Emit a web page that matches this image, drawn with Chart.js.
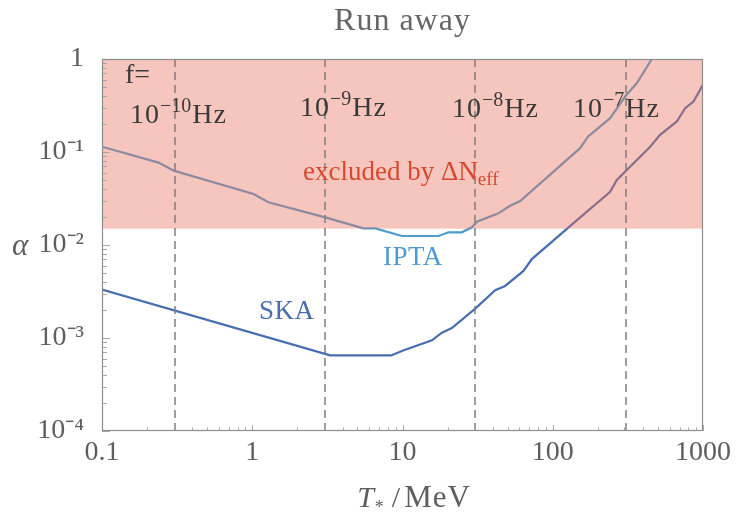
<!DOCTYPE html>
<html>
<head>
<meta charset="utf-8">
<title>Run away</title>
<script src="https://cdn.jsdelivr.net/npm/chart.js@4.4.1/dist/chart.umd.min.js"></script>
<style>
  html, body { margin: 0; padding: 0; background: #fff; }
</style>
</head>
<body>
<canvas id="runAway" width="738" height="515"></canvas>
<script>
// axis ticks
const xTicks = [0.1, 1, 10, 100, 1000];
const xTickText = ['0.1', '1', '10', '100', '1000'];
const yTicks = [1e-4, 1e-3, 1e-2, 1e-1, 1];
const yTickText = ['10⁻⁴', '10⁻³', '10⁻²', '10⁻¹', '1'];

// IPTA sensitivity curve (T* in MeV, alpha)
const iptaT = [0.1, 0.238, 0.30, 1.02, 1.28, 3.06, 5.5, 6.6, 9.9, 17.4, 20.2, 24.8, 29, 31.3,
  43.5, 52, 60.7, 152, 172, 241, 303, 363, 457];
const iptaAlpha = [0.114, 0.0769, 0.063, 0.0353, 0.0288, 0.0198, 0.0151, 0.0151, 0.0125, 0.0125,
  0.0137, 0.0137, 0.0155, 0.0178, 0.0219, 0.0264, 0.0297, 0.11, 0.147, 0.231, 0.395, 0.551, 1.0];

// SKA sensitivity curve
const skaT = [0.1, 3.3, 8.4, 10.2, 15.7, 18.3, 21.3, 30.5, 41.4, 48.2, 63.8, 72.6, 145, 241,
  267, 445, 518, 670, 761, 864, 1000];
const skaAlpha = [0.00332, 0.00065, 0.00065, 0.000737, 0.000944, 0.00114, 0.00128, 0.00207,
  0.00327, 0.00363, 0.00527, 0.00705, 0.0185, 0.0374, 0.05, 0.114, 0.153, 0.213, 0.296, 0.349, 0.53];

// Delta N_eff bound and peak frequency markers
const excludedAlpha = 0.015;
const freqT = [0.305, 3.05, 30.5, 305];
const freqExp = ['−10', '−9', '−8', '−7'];

const SERIF = "'Liberation Serif', 'Times New Roman', serif";
const fnt = (size, style) => `${style || 'normal'} ${size}px ${SERIF}`;

function partsWidth(ctx, parts) {
  let w = 0;
  for (const p of parts) {
    ctx.font = fnt(p.size, p.style);
    ctx.letterSpacing = (p.spacing || 0) + 'px';
    w += ctx.measureText(p.text).width + (p.gap || 0);
  }
  ctx.letterSpacing = '0px';
  return w;
}

function drawParts(ctx, x, y, parts) {
  ctx.textAlign = 'left';
  ctx.textBaseline = 'alphabetic';
  for (const p of parts) {
    ctx.font = fnt(p.size, p.style);
    ctx.letterSpacing = (p.spacing || 0) + 'px';
    ctx.fillStyle = p.color;
    ctx.fillText(p.text, x, y + (p.dy || 0));
    x += ctx.measureText(p.text).width + (p.gap || 0);
  }
  ctx.letterSpacing = '0px';
}

// 1..9 x 10^k between the decades
function logTicks(decades) {
  const ticks = [];
  for (let i = 0; i < decades.length - 1; i++) {
    for (let m = 1; m < 10; m++) ticks.push({ value: m * decades[i] });
  }
  ticks.push({ value: decades[decades.length - 1] });
  return ticks;
}

const decadeIndex = (list, v) =>
  list.findIndex(t => Math.abs(Math.log10(t) - Math.log10(v)) < 1e-6);

const decor = {
  id: 'decor',
  afterDatasetsDraw(chart) {
    const { ctx, chartArea: a, scales: { x, y } } = chart;
    ctx.save();

    // excluded region, drawn over the curves
    const yEx = y.getPixelForValue(excludedAlpha);
    ctx.fillStyle = 'rgba(232, 112, 93, 0.4)';
    ctx.fillRect(a.left, a.top, a.right - a.left, yEx - a.top);

    // frequency lines
    ctx.strokeStyle = '#7f7f7f';
    ctx.lineWidth = 1.5;
    ctx.setLineDash([8, 5]);
    freqT.forEach(t => {
      const px = Math.round(x.getPixelForValue(t));
      ctx.beginPath();
      ctx.moveTo(px, a.top);
      ctx.lineTo(px, a.bottom);
      ctx.stroke();
    });
    ctx.setLineDash([]);

    // inward tick marks
    ctx.strokeStyle = '#a8a8a8';
    ctx.lineWidth = 1;
    x.ticks.forEach(tk => {
      const px = Math.round(x.getPixelForValue(tk.value)) + 0.5;
      const len = decadeIndex(xTicks, tk.value) >= 0 ? 6 : 3.5;
      ctx.beginPath();
      ctx.moveTo(px, a.bottom);
      ctx.lineTo(px, a.bottom - len);
      ctx.stroke();
    });
    y.ticks.forEach(tk => {
      const py = Math.round(y.getPixelForValue(tk.value)) + 0.5;
      const len = decadeIndex(yTicks, tk.value) >= 0 ? 8 : 5;
      ctx.beginPath();
      ctx.moveTo(a.left, py);
      ctx.lineTo(a.left + len, py);
      ctx.stroke();
    });

    // frame
    ctx.strokeStyle = '#8e8e8e';
    ctx.lineWidth = 1.2;
    ctx.strokeRect(a.left + 0.5, a.top + 0.5, a.right - a.left - 1, a.bottom - a.top - 1);

    // annotations
    const dark = '#3a3a3a';
    drawParts(ctx, 125, 83, [{ text: 'f=', size: 28, color: dark }]);
    const freqPos = [[130, 123], [300, 116], [452, 117], [573, 117]];
    freqExp.forEach((e, i) => {
      drawParts(ctx, freqPos[i][0], freqPos[i][1], [
        { text: '10', size: 28, color: dark, spacing: 1 },
        { text: e, size: 20, dy: -11, color: dark, gap: 1 },
        { text: 'Hz', size: 28, color: dark, spacing: 1 }
      ]);
    });

    const red = '#d5492e';
    drawParts(ctx, 303, 180, [
      { text: 'excluded by ΔN', size: 27, color: red },
      { text: 'eff', size: 19, dy: 5, color: red }
    ]);
    drawParts(ctx, 383, 265, [{ text: 'IPTA', size: 27, color: '#4e9bcd', spacing: 0.5 }]);
    drawParts(ctx, 259, 319, [{ text: 'SKA', size: 27, color: '#476fb0', spacing: 0.5 }]);

    ctx.restore();
  },
  afterDraw(chart) {
    const { ctx, chartArea: a } = chart;
    ctx.save();
    const grey = '#5e5e5e';

    // title
    ctx.font = fnt(32);
    ctx.letterSpacing = '1px';
    ctx.fillStyle = '#666';
    ctx.textAlign = 'center';
    ctx.textBaseline = 'alphabetic';
    ctx.fillText('Run away', (a.left + a.right) / 2, 30);
    ctx.letterSpacing = '0px';

    // axis titles
    const xTitle = [
      { text: 'T', size: 30, style: 'italic', color: grey, gap: 1 },
      { text: '*', size: 18, dy: 6, color: grey, gap: 8 },
      { text: '/', size: 30, color: grey, gap: 4 },
      { text: 'MeV', size: 31, color: grey, spacing: 1 }
    ];
    drawParts(ctx, 414 - partsWidth(ctx, xTitle) / 2, 507, xTitle);
    drawParts(ctx, 12, 255, [{ text: 'α', size: 31, style: 'italic', color: grey }]);
    ctx.restore();
  }
};

const tickFont = { family: SERIF, size: 28, lineHeight: 1 };

new Chart('runAway', {
  type: 'line',
  data: {
    datasets: [
      {
        label: 'IPTA',
        data: iptaT.map((t, i) => ({ x: t, y: iptaAlpha[i] })),
        borderColor: '#4e9bcd',
        borderWidth: 2.2,
        pointRadius: 0,
        tension: 0
      },
      {
        label: 'SKA',
        data: skaT.map((t, i) => ({ x: t, y: skaAlpha[i] })),
        borderColor: '#476fb0',
        borderWidth: 2.2,
        pointRadius: 0,
        tension: 0
      }
    ]
  },
  options: {
    responsive: false,
    animation: false,
    devicePixelRatio: 1,
    layout: { padding: { top: 59, right: 35, left: 0, bottom: 0 } },
    plugins: {
      legend: { display: false },
      tooltip: { enabled: false },
      title: { display: false }
    },
    scales: {
      x: {
        type: 'logarithmic',
        min: 0.1,
        max: 1000,
        grid: { display: false },
        border: { display: false },
        afterBuildTicks: s => { s.ticks = logTicks(xTicks); },
        afterFit: s => { s.height = 84; },
        ticks: {
          autoSkip: false,
          maxRotation: 0,
          padding: 0,
          color: '#5e5e5e',
          font: tickFont,
          callback: v => {
            const i = decadeIndex(xTicks, v);
            return i >= 0 ? xTickText[i] : '';
          }
        }
      },
      y: {
        type: 'logarithmic',
        min: 1e-4,
        max: 1,
        grid: { display: false },
        border: { display: false },
        afterBuildTicks: s => { s.ticks = logTicks(yTicks); },
        afterFit: s => { s.width = 102; },
        ticks: {
          autoSkip: false,
          padding: 10,
          color: '#5e5e5e',
          font: tickFont,
          callback: v => {
            const i = decadeIndex(yTicks, v);
            return i >= 0 ? yTickText[i] : '';
          }
        }
      }
    }
  },
  plugins: [decor]
});
</script>
</body>
</html>
